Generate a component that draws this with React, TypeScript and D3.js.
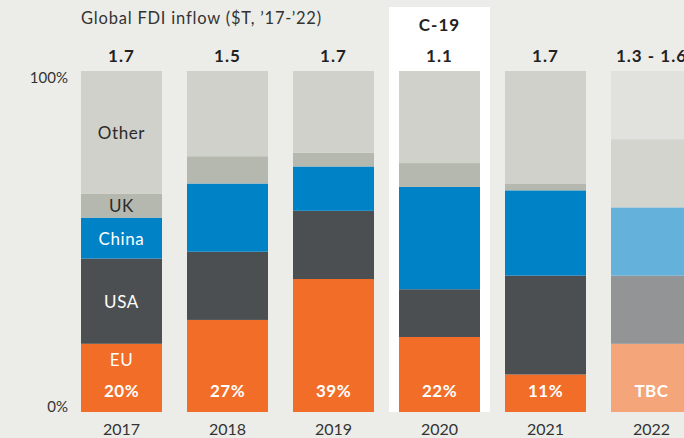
import React from "react";
import * as d3 from "d3";

const years = ["2017", "2018", "2019", "2020", "2021", "2022"];
const totals = ["1.7", "1.5", "1.7", "1.1", "1.7", "1.3 - 1.6"];
const euShareLabels = ["20%", "27%", "39%", "22%", "11%", "TBC"];
const regions = ["EU", "USA", "China", "UK", "Other"];
const euValues = [20, 27, 39, 22, 11, 20];
const usaValues = [25, 20, 20, 14, 29, 20];
const chinaValues = [12, 20, 13, 30, 25, 20];
const ukValues = [7, 8, 4, 7, 2, 20];
const otherValues = [36, 25, 24, 27, 33, 20];
const yTicks = [0, 100];
const highlightYear = "2020";
const highlightLabel = "C-19";
const estimatedYear = "2022";
const labelledYear = "2017";

const colors: Record<string, string> = {
  EU: "#f26d27",
  USA: "#4c4f52",
  China: "#0082c7",
  UK: "#b5b8ae",
  Other: "#d0d1ca",
};
const estColors: Record<string, string> = {
  EU: "#f5a57a",
  USA: "#939496",
  China: "#64b2dc",
  UK: "#d3d4ce",
  Other: "#e1e2de",
};
const labelColors: Record<string, string> = {
  EU: "#ffffff",
  USA: "#ffffff",
  China: "#ffffff",
  UK: "#2b2b2b",
  Other: "#2b2b2b",
};

const W = 684;
const H = 438;
const FONT = "Lato, 'Open Sans', sans-serif";

export default function App() {
  const rows = years.map((y, i) => ({
    year: y,
    EU: euValues[i],
    USA: usaValues[i],
    China: chinaValues[i],
    UK: ukValues[i],
    Other: otherValues[i],
  }));
  const stack = d3.stack<any>().keys(regions)(rows);

  const x = d3
    .scaleBand<string>()
    .domain(years)
    .range([68.5, 704.5])
    .paddingInner(0.236)
    .paddingOuter(0.118);
  const y = d3.scaleLinear().domain([0, 100]).range([412, 71]);
  const bw = x.bandwidth();
  const hx = x(highlightYear)!;

  return (
    <svg
      width={W}
      height={H}
      style={{ position: "absolute", left: 0, top: 0, fontFamily: FONT }}
    >
      <rect x={0} y={0} width={W} height={H} fill="#ecede8" />
      <rect x={hx - 10} y={7} width={bw + 20} height={y(0) - 7} fill="#ffffff" />
      <text x={81} y={24} fontSize={16.5} letterSpacing={0.8} fill="#333">
        Global FDI inflow ($T, ’17-’22)
      </text>
      <text
        x={hx + bw / 2}
        y={31}
        textAnchor="middle"
        fontSize={17}
        fontWeight={700}
        letterSpacing={1}
        fill="#222"
      >
        {highlightLabel}
      </text>
      {years.map((yr, i) => (
        <text
          key={"t" + yr}
          x={x(yr)! + bw / 2}
          y={62}
          textAnchor="middle"
          fontSize={17}
          fontWeight={700}
          letterSpacing={1}
          fill="#222"
        >
          {totals[i]}
        </text>
      ))}
      {yTicks.map((t) => (
        <text
          key={"yt" + t}
          x={68}
          y={t === 100 ? y(t) + 12 : y(t)}
          textAnchor="end"
          fontSize={15}
          fill="#333"
        >
          {t}%
        </text>
      ))}
      {stack.map((layer) =>
        layer.map((d, i) => {
          const yr = years[i];
          const est = yr === estimatedYear;
          return (
            <rect
              key={layer.key + yr}
              x={x(yr)!}
              y={y(d[1])}
              width={bw}
              height={y(d[0]) - y(d[1])}
              fill={(est ? estColors : colors)[layer.key]}
            />
          );
        })
      )}
      {stack.map((layer) => {
        const i = years.indexOf(labelledYear);
        const d = layer[i];
        const cx = x(labelledYear)! + bw / 2;
        const cy =
          layer.key === "EU" ? y(d[1]) + 16 : (y(d[0]) + y(d[1])) / 2;
        return (
          <text
            key={"lab" + layer.key}
            x={cx}
            y={cy}
            textAnchor="middle"
            dominantBaseline="central"
            fontSize={17}
            letterSpacing={0.6}
            fill={labelColors[layer.key]}
          >
            {layer.key}
          </text>
        );
      })}
      {years.map((yr, i) => (
        <text
          key={"eu" + yr}
          x={x(yr)! + bw / 2}
          y={397}
          textAnchor="middle"
          fontSize={17}
          fontWeight={700}
          letterSpacing={0.5}
          fill="#fff"
        >
          {euShareLabels[i]}
        </text>
      ))}
      {years.map((yr) => (
        <text
          key={"yr" + yr}
          x={x(yr)! + bw / 2}
          y={435}
          textAnchor="middle"
          fontSize={16}
          fill="#333"
        >
          {yr}
        </text>
      ))}
    </svg>
  );
}
